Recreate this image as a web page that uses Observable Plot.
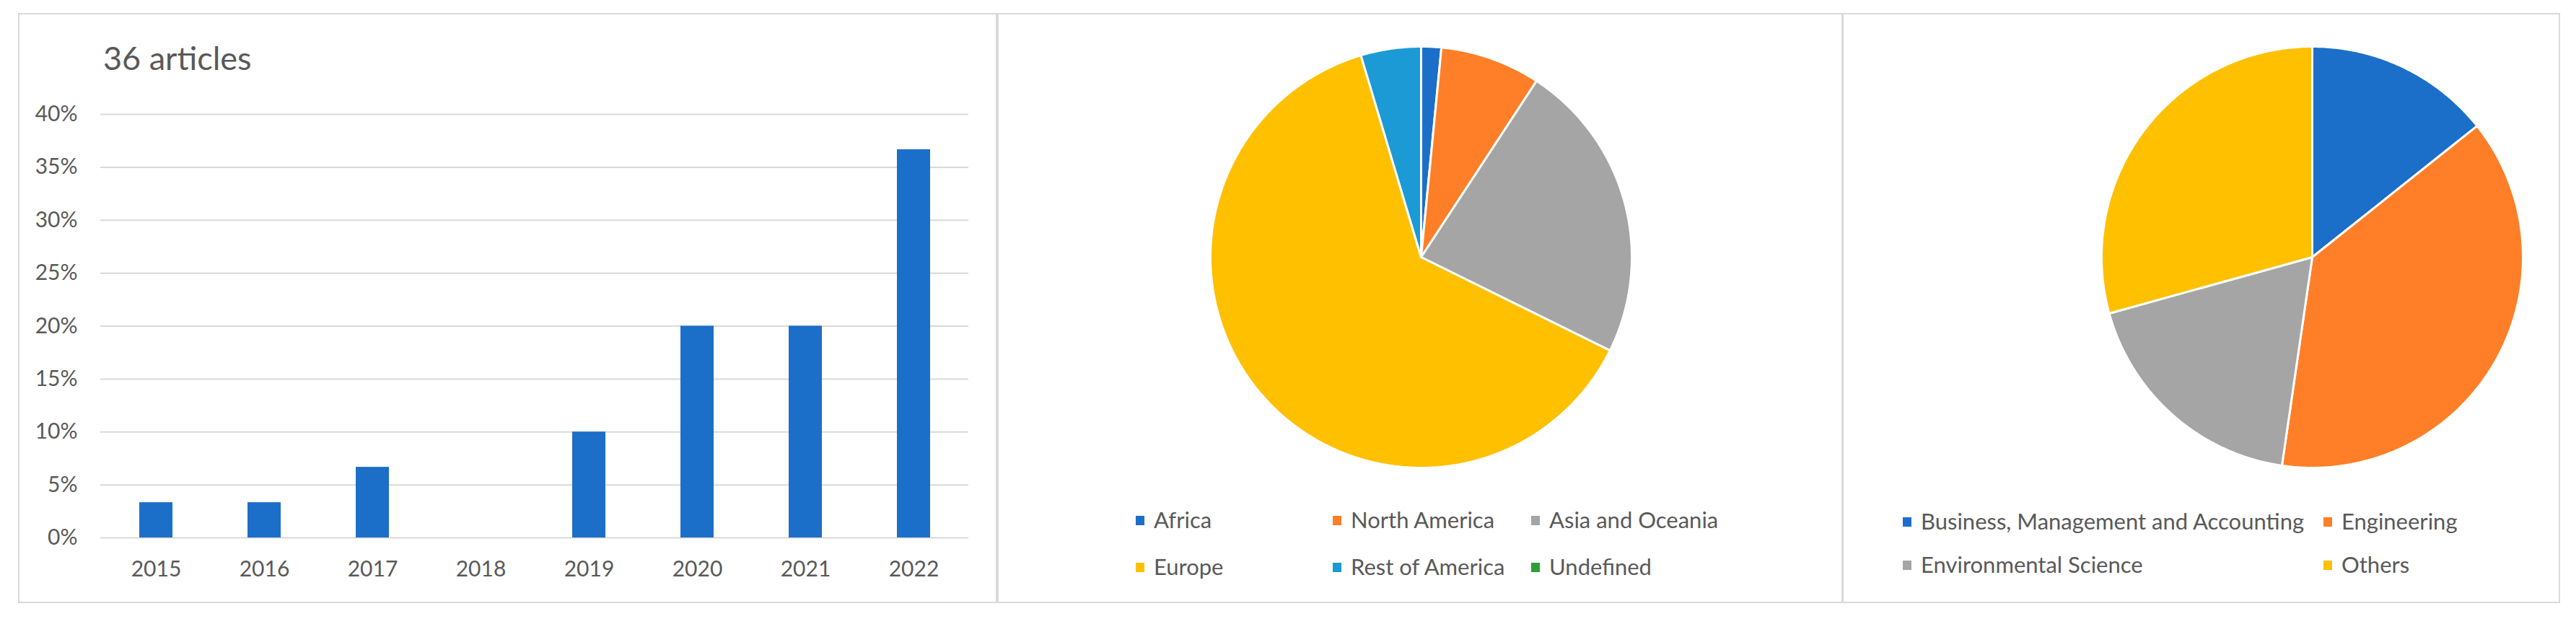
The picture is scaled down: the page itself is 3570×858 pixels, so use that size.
<!DOCTYPE html>
<html>
<head>
<meta charset="utf-8">
<script src="https://cdn.jsdelivr.net/npm/d3@7"></script>
<script src="https://cdn.jsdelivr.net/npm/@observablehq/plot@0.6"></script>
<style>
  html, body { margin: 0; padding: 0; background: #ffffff; }
  body { width: 3570px; height: 858px; overflow: hidden; font-family: Lato, "Open Sans", sans-serif; color: #595959; }
  #root { position: relative; width: 3570px; height: 858px; }
  .panel { position: absolute; border: 2px solid #d9d9d9; box-sizing: border-box; }
  .abs { position: absolute; }
  .sw { position: absolute; width: 12px; height: 13px; }
  .lt { position: absolute; font-size: 31px; line-height: 31px; white-space: nowrap; color: #595959; font-family: Lato, sans-serif; }
  .title { position: absolute; font-size: 45px; line-height: 45px; white-space: nowrap; color: #595959; font-family: Lato, sans-serif; }
</style>
</head>
<body>
<div id="root"></div>
<script>
// ---------- DATA ----------
const years = ["2015", "2016", "2017", "2018", "2019", "2020", "2021", "2022"];
const yearShares = [3.33, 3.33, 6.67, 0, 10, 20, 20, 36.67]; // percent of articles
const yTicks = [0, 5, 10, 15, 20, 25, 30, 35, 40];
const chartTitle = "36 articles";

const regions = ["Africa", "North America", "Asia and Oceania", "Europe", "Rest of America", "Undefined"];
const regionValues = [1, 5, 15, 41, 3, 0];
const regionColors = ["#1c6fc8", "#fe7f27", "#a5a5a5", "#ffc000", "#1b9ad6", "#2e9e3a"];

const areas = ["Business, Management and Accounting", "Engineering", "Environmental Science", "Others"];
const areaValues = [14.3, 38.0, 18.4, 29.3];
const areaColors = ["#1c6fc8", "#fe7f27", "#a5a5a5", "#ffc000"];

// ---------- LAYOUT ----------
const root = document.getElementById("root");
function place(el, left, top) {
  const d = document.createElement("div");
  d.className = "abs";
  d.style.left = left + "px";
  d.style.top = top + "px";
  d.appendChild(el);
  root.appendChild(d);
  return d;
}
function panel(l, t, r, b) {
  const p = document.createElement("div");
  p.className = "panel";
  p.style.left = l + "px"; p.style.top = t + "px";
  p.style.width = (r - l) + "px"; p.style.height = (b - t) + "px";
  root.appendChild(p);
}
panel(25, 18, 1382, 836);
panel(1382, 18, 2554, 836);
panel(2553, 18, 3548, 836);

// ---------- BAR CHART ----------
const barData = years.map((y, i) => ({year: y, share: yearShares[i]}));
const bar = Plot.plot({
  width: 1356, height: 817,
  marginLeft: 114, marginRight: 39, marginTop: 140, marginBottom: 90,
  style: {fontFamily: "Lato, sans-serif", fontSize: "30px", color: "#595959", background: "transparent"},
  x: {domain: years, paddingInner: 0.694, paddingOuter: 0.347},
  y: {domain: [0, 40]},
  marks: [
    Plot.gridY(yTicks, {stroke: "#d9d9d9", strokeOpacity: 1, strokeWidth: 2}),
    Plot.barY(barData, {x: "year", y: "share", fill: "#1c6fc8"}),
    Plot.axisY(yTicks, {tickFormat: d => d + "%", tickSize: 0, tickPadding: 32, label: null, fill: "#595959"}),
    Plot.axisX({tickSize: 0, tickPadding: 32, label: null, fill: "#595959"})
  ]
});
place(bar, 25, 18);

const title = document.createElement("div");
title.className = "title";
title.textContent = chartTitle;
title.style.left = "143px";
title.style.top = "58px";
root.appendChild(title);

// ---------- PIES ----------
function piePoints(cats, values) {
  const arcs = d3.pie().sort(null).value(d => d)(values);
  const pts = [];
  arcs.forEach((a, i) => {
    const span = a.endAngle - a.startAngle;
    if (span <= 0) return;
    const n = Math.max(2, Math.ceil(span / 0.01));
    pts.push({cat: cats[i], x: 0, y: 0});
    for (let k = 0; k <= n; k++) {
      const t = a.startAngle + span * k / n;
      pts.push({cat: cats[i], x: Math.sin(t), y: Math.cos(t)});
    }
    pts.push({cat: cats[i], x: 0, y: 0});
  });
  return pts;
}
function pie(cats, values, colors) {
  return Plot.plot({
    width: 592, height: 592,
    margin: 4,
    style: {background: "transparent"},
    x: {domain: [-1, 1], axis: null},
    y: {domain: [-1, 1], axis: null},
    color: {domain: cats, range: colors},
    marks: [
      Plot.line(piePoints(cats, values), {x: "x", y: "y", z: "cat", fill: "cat", stroke: "white", strokeWidth: 3, strokeLinejoin: "round", curve: "linear"})
    ]
  });
}
place(pie(regions, regionValues, regionColors), 1969 - 296, 356 - 296);
place(pie(areas, areaValues, areaColors), 3204 - 296, 356 - 296);

// ---------- LEGENDS ----------
function legend(cats, colors, cols, rows, perRow) {
  cats.forEach((c, i) => {
    const x = cols[i % perRow];
    const y = rows[Math.floor(i / perRow)];
    const s = document.createElement("div");
    s.className = "sw";
    s.style.background = colors[i];
    s.style.left = x + "px";
    s.style.top = (y - 6) + "px";
    root.appendChild(s);
    const t = document.createElement("div");
    t.className = "lt";
    t.textContent = c;
    t.style.left = (x + 25) + "px";
    t.style.top = (y - 16) + "px";
    root.appendChild(t);
  });
}
legend(regions, regionColors, [1574, 1847, 2122], [721, 786], 3);
legend(areas, areaColors, [2637, 3220], [723, 783], 2);
</script>
</body>
</html>
